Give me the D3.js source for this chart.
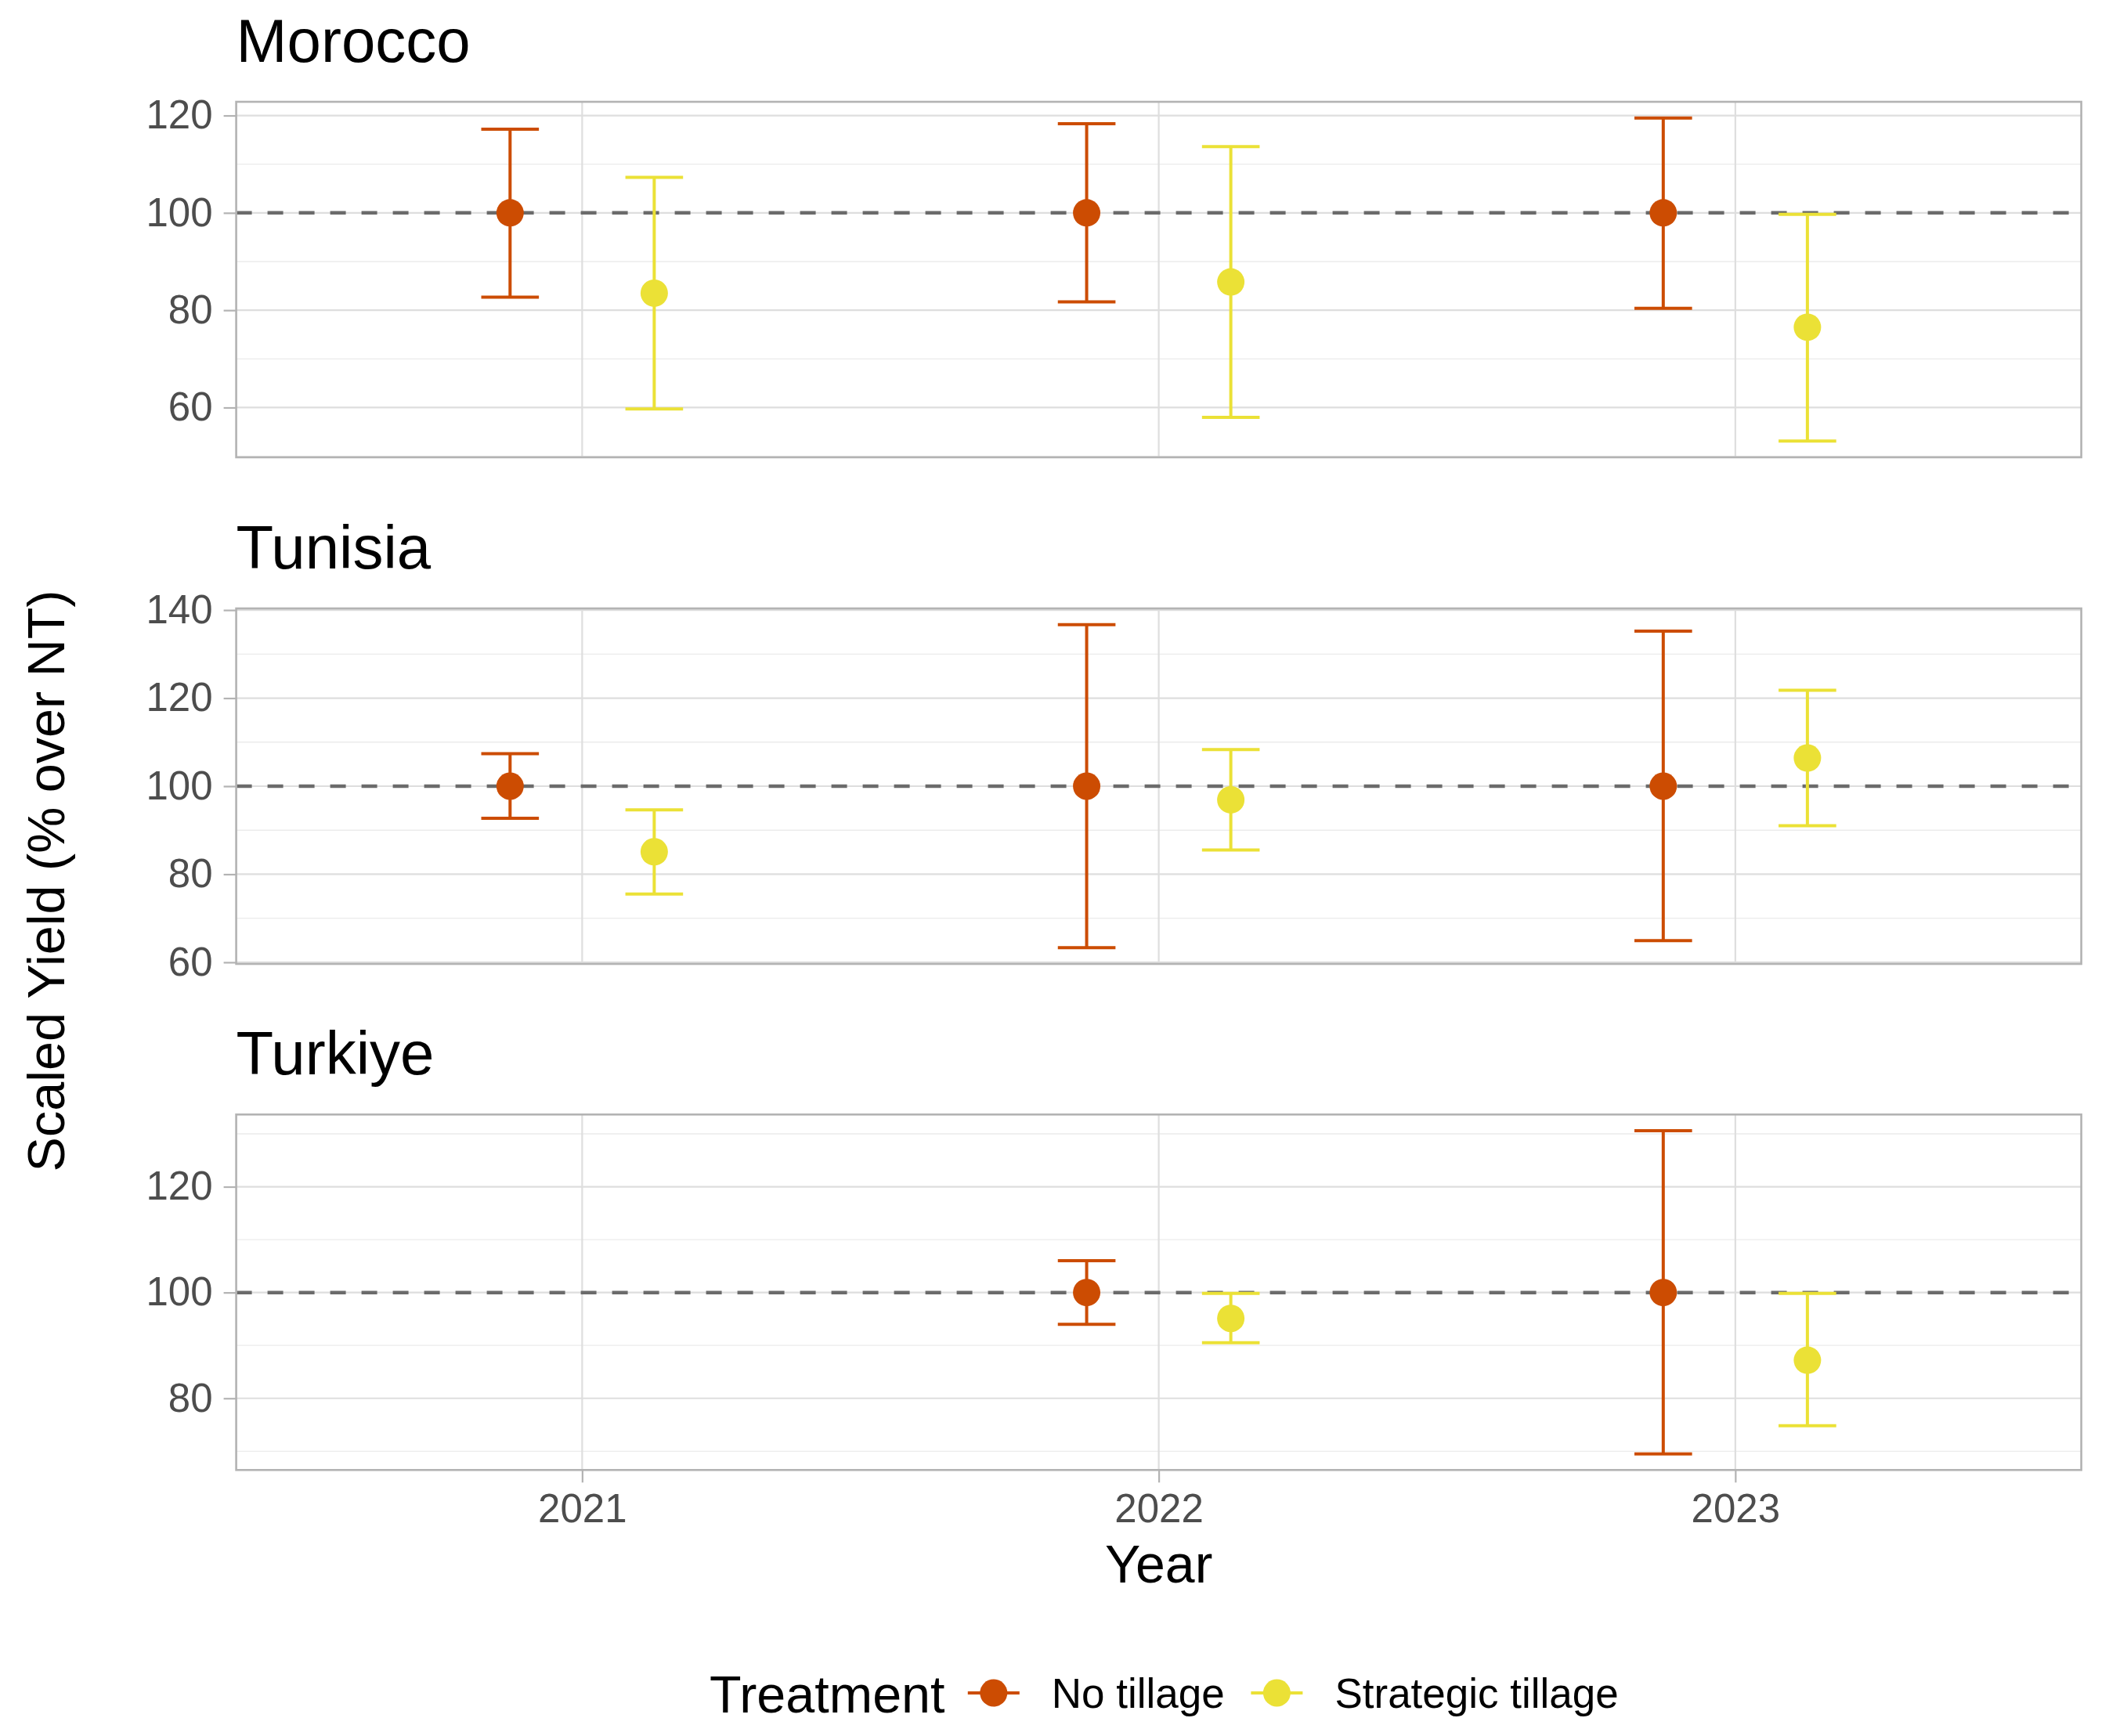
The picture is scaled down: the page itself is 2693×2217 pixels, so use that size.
<!DOCTYPE html>
<html>
<head>
<meta charset="utf-8">
<script src="https://cdn.jsdelivr.net/npm/d3@7"></script>
<style>
  body { margin: 0; background: #fff; }
  svg { display: block; font-family: "Liberation Sans", Arial, Helvetica, sans-serif; }
</style>
</head>
<body>
<svg id="chart" width="2693" height="2217"></svg>
<script>
// facets, x breaks, legend entries
const countries = ["Morocco", "Tunisia", "Turkiye"];
const years = [2021, 2022, 2023];
const treatments = ["No tillage", "Strategic tillage"];
const treatmentColors = ["#cc4c02", "#ebe136"];

// one entry per point (mean with lower / upper error bar ends)
const rowCountry = ["Morocco", "Morocco", "Morocco", "Morocco", "Morocco", "Morocco",
                    "Tunisia", "Tunisia", "Tunisia", "Tunisia", "Tunisia", "Tunisia",
                    "Turkiye", "Turkiye", "Turkiye", "Turkiye"];
const rowYear = [2021, 2021, 2022, 2022, 2023, 2023,
                 2021, 2021, 2022, 2022, 2023, 2023,
                 2022, 2022, 2023, 2023];
const rowTreatment = ["No tillage", "Strategic tillage", "No tillage", "Strategic tillage", "No tillage", "Strategic tillage",
                      "No tillage", "Strategic tillage", "No tillage", "Strategic tillage", "No tillage", "Strategic tillage",
                      "No tillage", "Strategic tillage", "No tillage", "Strategic tillage"];
const rowMean  = [100, 83.5, 100, 85.8, 100, 76.5,
                  100, 85.1, 100, 96.9, 100, 106.4,
                  100, 95.1, 100, 87.2];
const rowLower = [82.7, 59.7, 81.7, 58.0, 80.4, 53.1,
                  92.7, 75.5, 63.3, 85.5, 64.9, 91.0,
                  94.0, 90.5, 69.5, 74.8];
const rowUpper = [117.2, 107.3, 118.3, 113.6, 119.5, 99.7,
                  107.4, 94.6, 136.7, 108.3, 135.2, 121.8,
                  106.0, 99.85, 130.6, 99.85];

const rows = rowCountry.map((c, i) => ({
    country: c, year: rowYear[i], treatment: rowTreatment[i],
    mean: rowMean[i], lower: rowLower[i], upper: rowUpper[i]
}));

const svg = d3.select("#chart");

const panelLeft = 301.6;
const panelRight = 2657.6;
const panelTops = [130, 777, 1423.3];
const panelHeight = 454;
const dodge = 0.125;
const capHalf = 0.05;
const tickFont = "51px";

const color = d3.scaleOrdinal().domain(treatments).range(treatmentColors);
const x = d3.scaleLinear().domain([2020.4, 2023.6]).range([panelLeft, panelRight]);

countries.forEach((country, k) => {
    const data = rows.filter(d => d.country === country);
    const top = panelTops[k];
    const bottom = top + panelHeight;
    const lo = d3.min(data, d => d.lower);
    const hi = d3.max(data, d => d.upper);
    const pad = (hi - lo) * 0.05;
    const y = d3.scaleLinear().domain([lo - pad, hi + pad]).range([bottom, top]);

    const majors = y.ticks(4);
    const minors = d3.range(Math.ceil((lo - pad) / 10) * 10, hi + pad, 10)
        .filter(v => majors.indexOf(v) < 0);

    const g = svg.append('g').attr('class', "panel");

    // minor grid
    g.selectAll('.minor')
        .data(minors)
        .enter()
        .append('line')
        .attr('class', "minor")
        .attr('x1', panelLeft).attr('x2', panelRight)
        .attr('y1', d => y(d)).attr('y2', d => y(d))
        .attr('stroke', "#ebebeb")
        .attr('stroke-width', 1.3);

    // major grid
    g.selectAll('.majorY')
        .data(majors)
        .enter()
        .append('line')
        .attr('class', "majorY")
        .attr('x1', panelLeft).attr('x2', panelRight)
        .attr('y1', d => y(d)).attr('y2', d => y(d))
        .attr('stroke', "#dedede")
        .attr('stroke-width', 2.2);

    g.selectAll('.majorX')
        .data(years)
        .enter()
        .append('line')
        .attr('class', "majorX")
        .attr('x1', d => x(d)).attr('x2', d => x(d))
        .attr('y1', top).attr('y2', bottom)
        .attr('stroke', "#dedede")
        .attr('stroke-width', 2.2);

    // reference line at 100
    g.append('line')
        .attr('x1', panelLeft).attr('x2', panelRight)
        .attr('y1', y(100)).attr('y2', y(100))
        .attr('stroke', "#6b6b6b")
        .attr('stroke-width', 4.5)
        .attr('stroke-dasharray', "20 20");

    // y axis: ticks and labels
    const yAxis = d3.axisLeft(y).tickValues(majors).tickSize(16).tickPadding(14);
    const ya = g.append('g')
        .attr('transform', `translate(${panelLeft},0)`)
        .call(yAxis);
    ya.select('.domain').remove();
    ya.selectAll('.tick line').attr('stroke', "#b3b3b3").attr('stroke-width', 2.2);
    ya.selectAll('.tick text')
        .attr('fill', "#4d4d4d")
        .style('font-size', tickFont)
        .style('font-family', "Liberation Sans, Arial, sans-serif");

    // x axis only on the last facet
    if (k === countries.length - 1) {
        const xAxis = d3.axisBottom(x).tickValues(years).tickFormat(d3.format("d")).tickSize(16).tickPadding(14);
        const xa = g.append('g')
            .attr('transform', `translate(0,${bottom})`)
            .call(xAxis);
        xa.select('.domain').remove();
        xa.selectAll('.tick line').attr('stroke', "#b3b3b3").attr('stroke-width', 2.2);
        xa.selectAll('.tick text')
            .attr('fill', "#4d4d4d")
            .style('font-size', tickFont)
            .style('font-family', "Liberation Sans, Arial, sans-serif");
    }

    const px = d => x(d.year + (d.treatment === treatments[0] ? -dodge : dodge));
    const capW = x(capHalf) - x(0);

    // error bars
    const eb = g.selectAll('.errorbar')
        .data(data)
        .enter()
        .append('g')
        .attr('class', "errorbar")
        .attr('stroke', d => color(d.treatment))
        .attr('stroke-width', 4)
        .attr('fill', "none");
    eb.append('line')
        .attr('x1', px).attr('x2', px)
        .attr('y1', d => y(d.lower)).attr('y2', d => y(d.upper));
    eb.append('line')
        .attr('x1', d => px(d) - capW).attr('x2', d => px(d) + capW)
        .attr('y1', d => y(d.upper)).attr('y2', d => y(d.upper));
    eb.append('line')
        .attr('x1', d => px(d) - capW).attr('x2', d => px(d) + capW)
        .attr('y1', d => y(d.lower)).attr('y2', d => y(d.lower));

    // points
    g.selectAll('.pt')
        .data(data)
        .enter()
        .append('circle')
        .attr('class', "pt")
        .attr('cx', px)
        .attr('cy', d => y(d.mean))
        .attr('r', 17.5)
        .attr('fill', d => color(d.treatment));

    // panel border
    g.append('rect')
        .attr('x', panelLeft).attr('y', top)
        .attr('width', panelRight - panelLeft).attr('height', panelHeight)
        .attr('fill', "none")
        .attr('stroke', "#b3b3b3")
        .attr('stroke-width', 2.6);

    // facet title
    g.append('text')
        .text(country)
        .attr('x', panelLeft)
        .attr('y', top - 51)
        .attr('fill', "#000")
        .style('font-size', "78px");
});

// axis titles
svg.append('text')
    .text("Year")
    .attr('x', (panelLeft + panelRight) / 2)
    .attr('y', 2021)
    .attr('text-anchor', 'middle')
    .style('font-size', "68px");

svg.append('text')
    .text("Scaled Yield (% over NT)")
    .attr('transform', "translate(82,1125) rotate(-90)")
    .attr('text-anchor', 'middle')
    .style('font-size', "66.5px");

// legend
const legend = svg.append('g').attr('class', "legend");
legend.append('text')
    .text("Treatment")
    .attr('x', 906)
    .attr('y', 2187)
    .style('font-size', "66.5px");

const keyX = [1268.8, 1630.4];
const legendItems = legend.selectAll('.item')
    .data(treatments)
    .enter()
    .append('g')
    .attr('class', "item")
    .attr('transform', (d, i) => `translate(${keyX[i]},2162)`);
legendItems.append('line')
    .attr('x1', -33).attr('x2', 33)
    .attr('stroke', d => color(d))
    .attr('stroke-width', 4);
legendItems.append('circle')
    .attr('r', 17.5)
    .attr('fill', d => color(d));
legendItems.append('text')
    .text(d => d)
    .attr('x', 74)
    .attr('y', 19)
    .style('font-size', "53px");
</script>
</body>
</html>
